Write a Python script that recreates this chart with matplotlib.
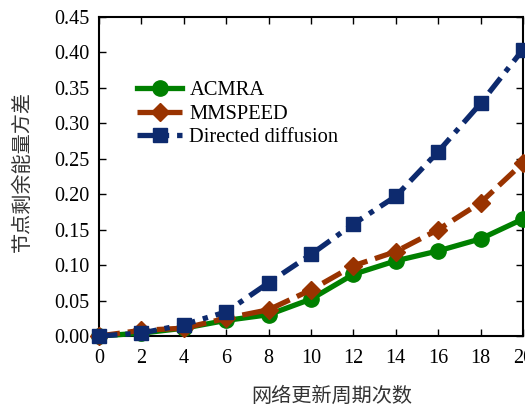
import matplotlib
matplotlib.use("Agg")
import matplotlib.pyplot as plt

x = [0, 2, 4, 6, 8, 10, 12, 14, 16, 18, 20]
acmra = [0.000, 0.004, 0.011, 0.022, 0.030, 0.052, 0.087, 0.106, 0.120, 0.137, 0.165]
mmspeed = [0.000, 0.008, 0.011, 0.025, 0.037, 0.065, 0.099, 0.119, 0.150, 0.188, 0.244]
dd = [0.000, 0.004, 0.016, 0.034, 0.075, 0.115, 0.158, 0.197, 0.260, 0.328, 0.404]
xticks = [0, 2, 4, 6, 8, 10, 12, 14, 16, 18, 20]
yticks = [0.00, 0.05, 0.10, 0.15, 0.20, 0.25, 0.30, 0.35, 0.40, 0.45]

plt.rcParams['font.family'] = ['Liberation Serif', 'Noto Sans CJK SC']

fig = plt.figure(figsize=(5.25, 4.05), dpi=100)
ax = fig.add_axes([0.1886, 0.1704, 0.8074, 0.7876])

green = '#008000'
brown = '#993300'
navy = '#0D2A6E'

ax.plot(x, acmra, color=green, lw=3.8, ls='-', marker='o', ms=11,
        label='ACMRA', clip_on=False, zorder=3)
ax.plot(x, mmspeed, color=brown, lw=3.8, ls=(0, (4, 1.5)), marker='D', ms=9,
        label='MMSPEED', clip_on=False, zorder=4)
ax.plot(x, dd, color=navy, lw=3.8, ls=(0, (3.5, 1.5, 1, 1.5)), marker='s', ms=10,
        label='Directed diffusion', clip_on=False, zorder=5)

ax.set_xlim(0, 20)
ax.set_ylim(0, 0.45)
ax.set_xticks(xticks)
ax.set_yticks(yticks)
ax.set_yticklabels([f'{v:.2f}' for v in yticks])
ax.tick_params(direction='in', top=True, right=True, length=5, width=1,
               labelsize=14.5)
ax.tick_params(axis='x', pad=9.5)
ax.tick_params(axis='y', pad=7)
for s in ax.spines.values():
    s.set_linewidth(1.5)

ax.set_xlabel('网络更新周期次数', fontsize=14.5, family=['Noto Sans CJK SC'],
              color='#333333')
ax.set_ylabel('节点剩余能量方差', fontsize=14.5, family=['Noto Sans CJK SC'],
              color='#333333')
ax.xaxis.set_label_coords(0.55, -0.155)
ax.yaxis.set_label_coords(-0.155, 0.515)

leg = ax.legend(loc='upper left', bbox_to_anchor=(0.07, 0.825), frameon=False,
                fontsize=14.8, handlelength=2.2, handletextpad=0.35,
                labelspacing=0.2, borderaxespad=0)

fig.savefig('out.png', dpi=100)
